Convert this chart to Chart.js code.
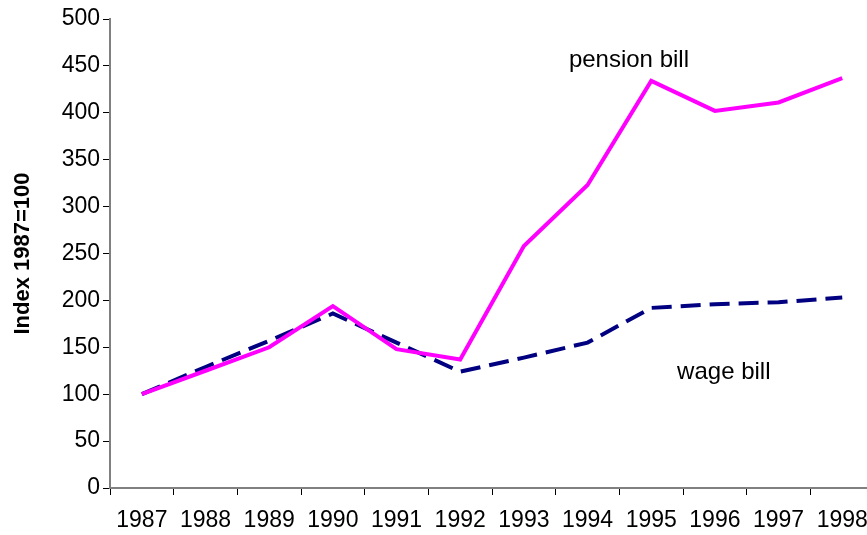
<!DOCTYPE html>
<html>
<head>
<meta charset="utf-8">
<script src="https://cdn.jsdelivr.net/npm/chart.js@4/dist/chart.umd.min.js"></script>
<style>
  html, body { margin: 0; padding: 0; background: #fff; overflow: hidden; }
  #wrap { width: 880px; height: 535px; }
</style>
</head>
<body>
<div id="wrap"><canvas id="c" width="880" height="535"></canvas></div>
<script>
const years = ['1987','1988','1989','1990','1991','1992','1993','1994','1995','1996','1997','1998'];
const pensionBill = [100, 125, 150, 194, 148, 137, 258, 323, 434, 402, 411, 437];
const wageBill    = [100, 129, 157, 186, 155, 124, 139, 155, 192, 196, 198, 203];
const yTicks = [0, 50, 100, 150, 200, 250, 300, 350, 400, 450, 500];
const annotations = [
  { text: 'pension bill', at: 7.65, value: 456 },
  { text: 'wage bill',    at: 9.14, value: 123 }
];

const FONT = "'Liberation Sans', Arial, sans-serif";

const labelPlugin = {
  id: 'seriesLabels',
  afterDatasetsDraw(chart) {
    const { ctx, scales: { x, y } } = chart;
    ctx.save();
    ctx.font = '24px ' + FONT;
    ctx.fillStyle = '#000';
    ctx.textAlign = 'center';
    ctx.textBaseline = 'middle';
    annotations.forEach(a => {
      ctx.fillText(a.text, x.getPixelForValue(a.at), y.getPixelForValue(a.value));
    });
    ctx.restore();
  }
};

new Chart(document.getElementById('c'), {
  type: 'line',
  data: {
    labels: years,
    datasets: [
      {
        label: 'pension bill',
        data: pensionBill,
        borderColor: '#FF00FF',
        borderWidth: 4,
        pointRadius: 0,
        tension: 0,
        fill: false
      },
      {
        label: 'wage bill',
        data: wageBill,
        borderColor: '#000080',
        borderWidth: 4,
        borderDash: [20, 9],
        pointRadius: 0,
        tension: 0,
        fill: false
      }
    ]
  },
  options: {
    responsive: false,
    animation: false,
    layout: { padding: { top: 19, right: 4, left: 0, bottom: 0 } },
    plugins: { legend: { display: false }, tooltip: { enabled: false } },
    scales: {
      x: {
        type: 'category',
        offset: true,
        afterFit(scale) { scale.height = 47; },
        grid: { offset: true, drawOnChartArea: false, drawTicks: true, tickLength: 7, color: '#000', lineWidth: 1 },
        border: { display: true, color: '#808080', width: 2 },
        ticks: { color: '#000', font: { family: FONT, size: 23 }, padding: 12, maxRotation: 0, autoSkip: false }
      },
      y: {
        min: 0,
        max: 500,
        afterBuildTicks(scale) { scale.ticks = yTicks.map(v => ({ value: v })); },
        afterFit(scale) { scale.width = 110; },
        grid: { drawOnChartArea: false, drawTicks: true, tickLength: 7, color: '#000', lineWidth: 1 },
        border: { display: true, color: '#808080', width: 2 },
        ticks: { color: '#000', font: { family: FONT, size: 23 }, padding: 3 },
        title: {
          display: true,
          text: 'Index 1987=100',
          color: '#000',
          font: { family: FONT, size: 22, weight: 'bold' },
          padding: { top: 10, bottom: 0 }
        }
      }
    }
  },
  plugins: [labelPlugin]
});
</script>
</body>
</html>
